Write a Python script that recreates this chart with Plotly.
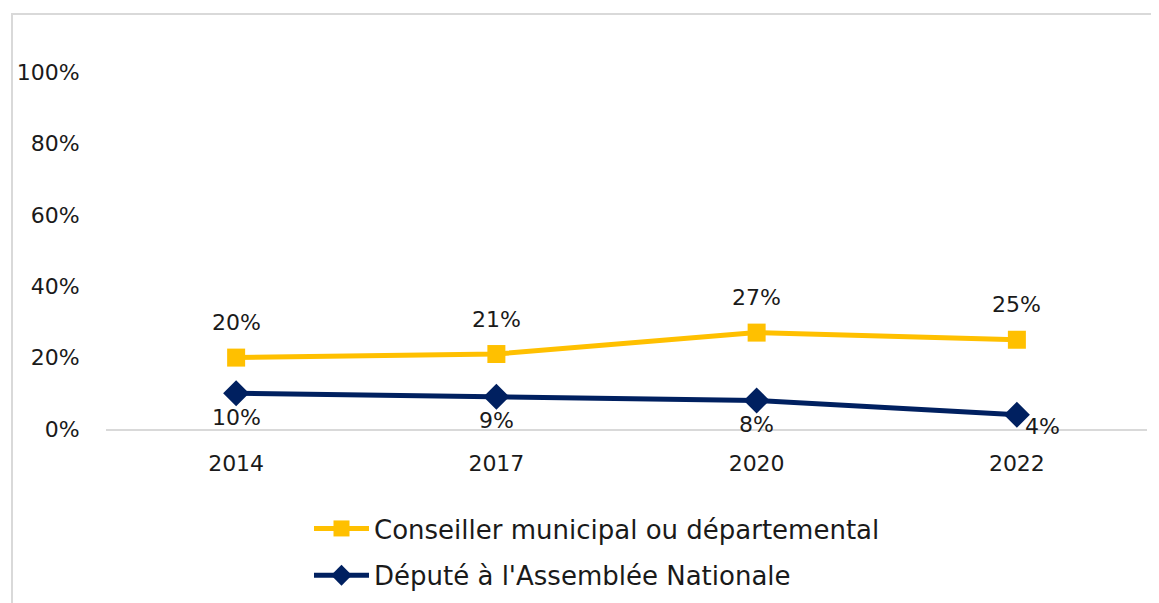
import plotly.graph_objects as go

years = ["2014", "2017", "2020", "2022"]
conseiller = [20, 21, 27, 25]
depute = [10, 9, 8, 4]
name_c = "Conseiller municipal ou départemental"
name_d = "Député à l'Assemblée Nationale"
ytick_vals = [0, 20, 40, 60, 80, 100]
ytick_text = ["0%", "20%", "40%", "60%", "80%", "100%"]

YELLOW = "#FFC000"
NAVY = "#002060"
FONT = "DejaVu Sans"
FS = 22
TXT = "#1a1a1a"

fig = go.Figure()
fig.add_trace(go.Scatter(
    x=years, y=conseiller, name=name_c, mode="lines+markers",
    line=dict(color=YELLOW, width=5),
    marker=dict(symbol="square", size=18, color=YELLOW),
    legendgroup="c",
))
fig.add_trace(go.Scatter(
    x=years, y=depute, name=name_d, mode="lines+markers",
    line=dict(color=NAVY, width=5),
    marker=dict(symbol="diamond", size=20, color=NAVY),
    legendgroup="d",
))

annotations = []
for i, v in enumerate(conseiller):
    annotations.append(dict(x=i, y=v, xref="x", yref="y", text=f"{v}%",
                            showarrow=False, yshift=35,
                            font=dict(family=FONT, size=FS, color=TXT)))
for i, v in enumerate(depute):
    last = i == len(depute) - 1
    annotations.append(dict(x=i, y=v, xref="x", yref="y", text=f"{v}%",
                            showarrow=False,
                            yshift=-12 if last else -24, xshift=26 if last else 0,
                            font=dict(family=FONT, size=FS, color=TXT)))

fig.update_layout(
    width=1151, height=612,
    margin=dict(l=98, r=12, t=64, b=191),
    paper_bgcolor="white", plot_bgcolor="white",
    font=dict(family=FONT, size=FS, color=TXT),
    annotations=annotations,
    xaxis=dict(type="category", showgrid=False, showline=True, linecolor="#d9d9d9",
               linewidth=2, ticks="outside", ticklen=14, tickcolor="rgba(0,0,0,0)",
               range=[-0.5, 3.5], zeroline=False, automargin=False),
    yaxis=dict(range=[0, 100], tickvals=ytick_vals, ticktext=ytick_text,
               showgrid=False, zeroline=False, showline=False, automargin=False,
               ticks="outside", ticklen=21, tickcolor="rgba(0,0,0,0)"),
    legend=dict(x=0.195, y=-0.213, xanchor="left", yanchor="top", itemwidth=55,
                tracegroupgap=10, font=dict(family=FONT, size=26),
                bgcolor="rgba(0,0,0,0)"),
    shapes=[dict(type="rect", xref="paper", yref="paper",
                 x0=-0.0903, x1=1.02, y0=-0.6, y1=1.1625,
                 line=dict(color="#d9d9d9", width=2), fillcolor="rgba(0,0,0,0)",
                 layer="below")],
)

fig.write_html("out.html")
